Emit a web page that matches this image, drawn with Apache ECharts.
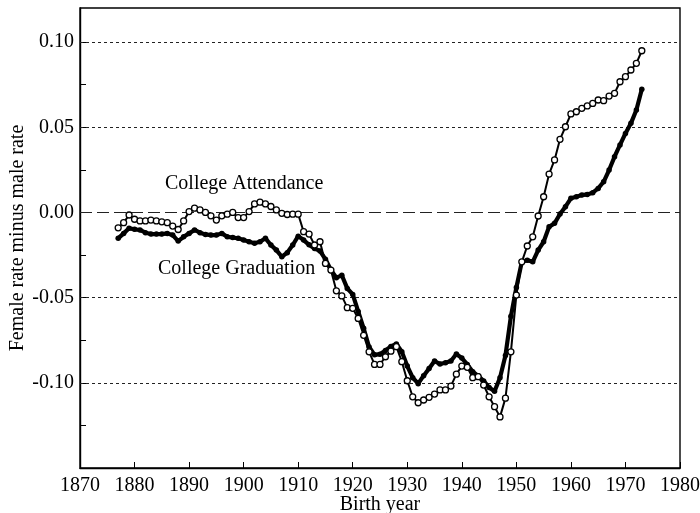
<!DOCTYPE html>
<html>
<head>
<meta charset="utf-8">
<script src="https://cdn.jsdelivr.net/npm/echarts@6/dist/echarts.min.js"></script>
<style>html,body{margin:0;padding:0;background:#fff}#c{width:700px;height:513px}</style>
</head>
<body>
<div id="c"></div>
<script>
var years = [1877,1878,1879,1880,1881,1882,1883,1884,1885,1886,1887,1888,1889,1890,1891,1892,1893,1894,1895,1896,1897,1898,1899,1900,1901,1902,1903,1904,1905,1906,1907,1908,1909,1910,1911,1912,1913,1914,1915,1916,1917,1918,1919,1920,1921,1922,1923,1924,1925,1926,1927,1928,1929,1930,1931,1932,1933,1934,1935,1936,1937,1938,1939,1940,1941,1942,1943,1944,1945,1946,1947,1948,1949,1950,1951,1952,1953,1954,1955,1956,1957,1958,1959,1960,1961,1962,1963,1964,1965,1966,1967,1968,1969,1970,1971,1972,1973];

var attendance = [-0.009,-0.006,-0.0015,-0.004,-0.005,-0.005,-0.0045,-0.005,-0.0055,-0.006,-0.008,-0.010,-0.005,0.0005,0.0025,0.0015,0.000,-0.002,-0.0045,-0.002,-0.001,0.000,-0.003,-0.003,0.0005,0.005,0.006,0.005,0.0035,0.0015,-0.0005,-0.0012,-0.001,-0.001,
-0.0113,-0.0127,-0.0191,-0.0172,-0.0299,-0.0338,-0.046,-0.049,-0.0559,-0.0563,-0.0622,-0.0721,-0.0818,-0.0892,-0.0892,-0.0847,-0.0814,-0.0788,-0.0876,-0.0988,-0.1082,-0.1117,-0.1101,-0.1085,-0.1066,-0.1042,-0.1042,-0.1019,-0.0949,-0.0902,-0.0909,-0.097,-0.0964,-0.1013,-0.1082,-0.114,-0.120,-0.109,
-0.0818,-0.0485,-0.029,-0.0197,-0.0143,-0.0021,0.0092,0.0225,0.0308,0.0429,0.0503,0.0578,0.0591,0.0611,0.0625,0.064,0.066,0.0656,0.0683,0.0699,0.0767,0.0797,0.0836,0.0875,0.0949];

var graduation = [-0.0152,-0.0123,-0.0093,-0.0099,-0.0103,-0.0119,-0.0127,-0.0127,-0.0127,-0.0123,-0.0133,-0.0168,-0.0143,-0.0123,-0.0103,-0.0119,-0.0129,-0.0133,-0.0133,-0.0123,-0.0143,-0.0147,-0.0152,-0.0162,-0.0172,-0.0181,-0.0172,-0.0152,-0.0191,-0.0221,-0.026,-0.0236,-0.0191,-0.0139,
-0.0162,-0.019,-0.0212,-0.0226,-0.0275,-0.0337,-0.0383,-0.0369,-0.0446,-0.0481,-0.0581,-0.068,-0.079,-0.0836,-0.0832,-0.081,-0.0787,-0.0772,-0.0818,-0.0902,-0.097,-0.1005,-0.0958,-0.0916,-0.0872,-0.089,-0.0882,-0.0872,-0.0831,-0.0855,-0.0892,-0.0935,-0.0959,-0.0989,-0.1028,-0.105,-0.097,-0.084,
-0.061,-0.044,-0.029,-0.028,-0.029,-0.0221,-0.0172,-0.0084,-0.0064,-0.0009,0.0034,0.0083,0.0092,0.0102,0.0106,0.0116,0.0141,0.018,0.0249,0.0327,0.0396,0.0464,0.0523,0.0601,0.0723];

var dottedLevels = [0.10, 0.05, -0.05, -0.10];
var dashedLevels = [0.00];

var FONT = '"Liberation Serif", "DejaVu Serif", serif';

function pairs(ys){ return years.map(function(y,i){ return [y, ys[i]]; }); }

var chart = echarts.init(document.getElementById('c'), null, {renderer:'canvas'});

var markData = dottedLevels.map(function(v){
  return {yAxis: v, lineStyle:{type:[3,3], width:1, color:'#222'}};
}).concat(dashedLevels.map(function(v){
  return {yAxis: v, lineStyle:{type:[12,5], width:1.2, color:'#222'}};
}));

chart.setOption({
  animation:false,
  backgroundColor:'#fff',
  grid:{left:80, right:20, top:8, bottom:45, containLabel:false, outerBoundsMode:'none',
        show:true, borderColor:'#000', borderWidth:1.4, backgroundColor:'transparent'},
  xAxis:{
    type:'value', min:1870, max:1980, interval:10,
    name:'Birth year', nameLocation:'middle', nameGap:27, nameMoveOverlap:false,
    nameTextStyle:{fontFamily:FONT, fontSize:20, color:'#000'},
    axisLine:{show:true, onZero:false, lineStyle:{color:'#000', width:1.4}},
    axisTick:{show:true, inside:true, length:6, lineStyle:{color:'#000'}},
    axisLabel:{fontFamily:FONT, fontSize:20, color:'#000', margin:8,
      formatter:function(v){ return String(Math.round(v)); }},
    splitLine:{show:false}
  },
  yAxis:{
    type:'value', min:-0.15, max:0.12, interval:0.025,
    name:'Female rate minus male rate', nameLocation:'middle', nameGap:52, nameRotate:90, nameMoveOverlap:false,
    nameTextStyle:{fontFamily:FONT, fontSize:20, color:'#000'},
    axisLine:{show:true, onZero:false, lineStyle:{color:'#000', width:1.4}},
    axisTick:{show:true, inside:true, length:6, lineStyle:{color:'#000'}},
    axisLabel:{fontFamily:FONT, fontSize:20, color:'#000', margin:6,
      showMaxLabel:false,
      formatter:function(v){
        if (v < -0.14) return '';
        var k = Math.round(v*40);
        if (Math.abs(k) % 2 !== 0) return '';
        if (Math.abs(v) < 1e-9) return '0.00';
        return v.toFixed(2);
      }},
    splitLine:{show:false}
  },
  series:[
    {
      name:'College Graduation', type:'line', data:pairs(graduation),
      symbol:'circle', symbolSize:5.5, showAllSymbol:true,
      lineStyle:{color:'#000', width:4.2},
      itemStyle:{color:'#000', borderColor:'#000', borderWidth:0},
      z:3,
      markLine:{silent:true, symbol:'none', label:{show:false}, data:markData, z:1}
    },
    {
      name:'College Attendance', type:'line', data:pairs(attendance),
      symbol:'circle', symbolSize:6, showAllSymbol:true,
      lineStyle:{color:'#000', width:2},
      itemStyle:{color:'#fff', borderColor:'#000', borderWidth:1.3},
      z:4
    }
  ],
  graphic:[
    {type:'text', left:165, top:174, style:{text:'College Attendance', font:'20px ' + FONT, fill:'#000'}},
    {type:'text', left:158, top:259, style:{text:'College Graduation', font:'20px ' + FONT, fill:'#000'}}
  ]
});
</script>
</body>
</html>
